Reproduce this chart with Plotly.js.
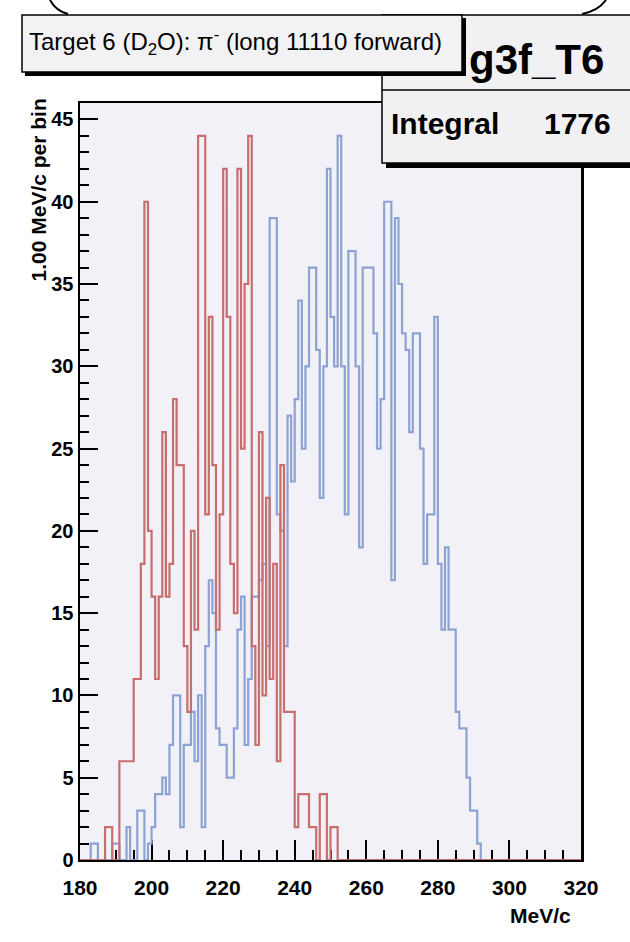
<!DOCTYPE html>
<html><head><meta charset="utf-8">
<script src="https://cdn.plot.ly/plotly-3.0.1.min.js"></script>
<style>html,body{margin:0;padding:0;background:#fff;}#chart{width:630px;height:942px;}</style>
</head><body><div id="chart"></div>
<script>
// ---- data ----
const binLow = 180, binHigh = 320, binWidth = 1;
const blueStart = 183;
const blueCounts = [1,1,0,0,0,0,1,1,0,0,2,0,0,3,3,0,1,2,4,4,5,4,7,10,10,2,7,7,9,6,10,2,13,17,15,8,7,7,5,5,8,14,16,7,11,16,16,17,18,13,39,39,21,20,13,27,23,28,34,25,30,36,36,31,22,30,42,33,30,44,30,21,37,37,30,19,36,36,36,32,25,28,40,40,17,39,35,32,31,26,32,32,25,18,21,21,33,18,14,19,14,14,9,8,8,5,3,3,1];
const redStart = 186;
const redCounts = [0,2,2,0,0,6,6,6,6,11,11,18,40,20,16,11,16,26,16,18,28,24,24,13,9,20,14,44,44,21,33,24,14,21,42,33,18,15,42,25,35,44,13,7,26,10,22,11,18,6,24,9,9,9,2,4,4,4,2,2,0,4,4,0,2,2,0];
const xTickVals = [180,200,220,240,260,280,300,320];
const yTickVals = [0,5,10,15,20,25,30,35,40,45];
const titleText = 'Target 6 (D<sub>2</sub>O): π<sup>-</sup> (long 11110 forward)';
const histName = 'g3f_T6';
const integralLabel = 'Integral';
const integralValue = '1776';
const xTitle = 'MeV/c';
const yTitle = '1.00 MeV/c per bin';

// ---- helpers ----
function fullBins(start, counts) {
  const n = Math.round((binHigh - binLow) / binWidth);
  const v = new Array(n).fill(0);
  counts.forEach((c, i) => { v[Math.round((start - binLow) / binWidth) + i] = c; });
  return v;
}
function stepXY(vals) {
  const x = [], y = [];
  vals.forEach((v, i) => { x.push(binLow + i * binWidth); y.push(v); });
  x.push(binHigh); y.push(vals[vals.length - 1]);
  return {x, y};
}
const blue = stepXY(fullBins(blueStart, blueCounts));
const red = stepXY(fullBins(redStart, redCounts));

const W = 630, H = 942, ML = 80, MR = 49, MT = 103, MB = 82;
const PW = W - ML - MR, PH = H - MT - MB;
const X = p => (p - ML) / PW;
const Y = p => (H - MB - p) / PH;
const FONT = 'Liberation Sans, Arial, sans-serif';

const traces = [
  {x: blue.x, y: blue.y, type: 'scatter', mode: 'lines', line: {shape: 'hv', color: '#8da3d4', width: 2.2}, hoverinfo: 'skip', cliponaxis: false},
  {x: red.x, y: red.y, type: 'scatter', mode: 'lines', line: {shape: 'hv', color: '#c86e6e', width: 2.2}, hoverinfo: 'skip', cliponaxis: false}
];

const shapes = [
  {type: 'path', xref: 'paper', yref: 'paper', path: `M ${X(50)} ${Y(0)} Q ${X(56)} ${Y(11)} ${X(68)} ${Y(14)}`, line: {color: 'black', width: 2}},
  {type: 'path', xref: 'paper', yref: 'paper', path: `M ${X(582)} ${Y(14)} Q ${X(598)} ${Y(11)} ${X(606)} ${Y(0)}`, line: {color: 'black', width: 2}},
  {type: 'rect', xref: 'paper', yref: 'paper', x0: X(386), x1: X(640), y0: Y(19), y1: Y(168), fillcolor: 'black', line: {width: 0}},
  {type: 'rect', xref: 'paper', yref: 'paper', x0: X(382), x1: X(640), y0: Y(15), y1: Y(163), fillcolor: '#f1f1f4', line: {color: 'black', width: 1.5}},
  {type: 'line', xref: 'paper', yref: 'paper', x0: X(382), x1: X(640), y0: Y(90), y1: Y(90), line: {color: 'black', width: 1.5}},
  {type: 'rect', xref: 'paper', yref: 'paper', x0: X(25), x1: X(466), y0: Y(18), y1: Y(76), fillcolor: 'black', line: {width: 0}},
  {type: 'rect', xref: 'paper', yref: 'paper', x0: X(22), x1: X(462), y0: Y(15), y1: Y(72), fillcolor: '#f2f2f5', line: {color: 'black', width: 1.5}}
];

const annotations = [
  {xref: 'paper', yref: 'paper', x: X(27), y: Y(42), xanchor: 'left', yanchor: 'middle', text: titleText, showarrow: false, font: {family: FONT, size: 24, color: 'black'}},
  {xref: 'paper', yref: 'paper', x: X(536), y: Y(60), xanchor: 'center', yanchor: 'middle', text: histName, showarrow: false, font: {family: FONT, size: 42, color: 'black', weight: 'bold'}},
  {xref: 'paper', yref: 'paper', x: X(389), y: Y(124), xanchor: 'left', yanchor: 'middle', text: integralLabel, showarrow: false, font: {family: FONT, size: 30, color: 'black', weight: 'bold'}},
  {xref: 'paper', yref: 'paper', x: X(613), y: Y(124), xanchor: 'right', yanchor: 'middle', text: integralValue, showarrow: false, font: {family: FONT, size: 30, color: 'black', weight: 'bold'}},
  {xref: 'paper', yref: 'paper', x: X(573), y: Y(915), xanchor: 'right', yanchor: 'middle', text: xTitle, showarrow: false, font: {family: FONT, size: 21, color: 'black', weight: 'bold'}},
  {xref: 'paper', yref: 'paper', x: X(38), y: Y(97), xanchor: 'center', yanchor: 'top', textangle: -90, text: yTitle, showarrow: false, font: {family: FONT, size: 21, color: 'black', weight: 'bold'}}
];

const layout = {
  width: W, height: H,
  margin: {l: ML, r: MR, t: MT, b: MB, pad: 0},
  paper_bgcolor: 'white', plot_bgcolor: '#f1f1f7',
  showlegend: false,
  xaxis: {
    range: [binLow, binHigh], tickvals: xTickVals, ticktext: xTickVals.map(String),
    ticks: 'inside', ticklen: 20, tickwidth: 2, tickcolor: 'black', ticklabelstandoff: 8,
    showline: true, linecolor: 'black', linewidth: 2, mirror: true,
    showgrid: false, zeroline: false, layer: 'below traces',
    tickfont: {family: FONT, size: 21, color: 'black', weight: 'bold'},
    minor: {tick0: binLow, dtick: 5, ticks: 'inside', ticklen: 10, tickwidth: 2, tickcolor: 'black', showgrid: false}
  },
  yaxis: {
    range: [0, 46], tickvals: yTickVals, ticktext: yTickVals.map(String),
    ticks: 'inside', ticklen: 18, tickwidth: 2, tickcolor: 'black',
    showline: true, linecolor: 'black', linewidth: 2.5, mirror: true,
    showgrid: false, zeroline: false, layer: 'below traces',
    tickfont: {family: FONT, size: 20, color: 'black', weight: 'bold'},
    minor: {tick0: 0, dtick: 1, ticks: 'inside', ticklen: 9, tickwidth: 2, tickcolor: 'black', showgrid: false}
  },
  shapes: shapes,
  annotations: annotations
};

Plotly.newPlot('chart', traces, layout, {staticPlot: true, displayModeBar: false});
</script>
</body></html>
